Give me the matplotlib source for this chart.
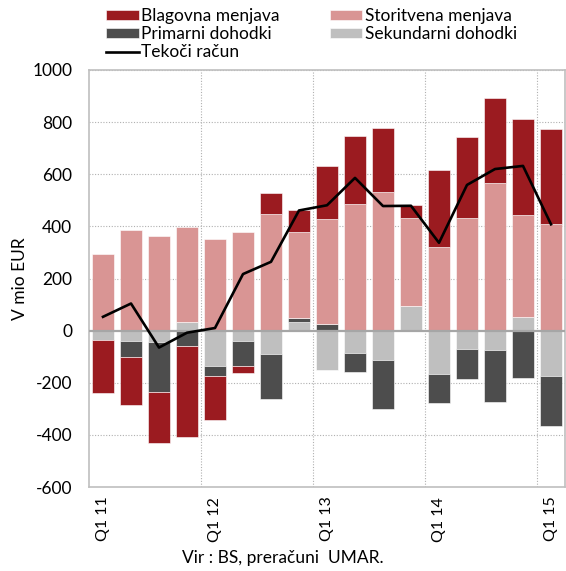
import matplotlib
matplotlib.use("Agg")
import matplotlib.pyplot as plt
import numpy as np

plt.rcParams['font.family'] = ['Lato', 'DejaVu Sans']

quarters = ["Q1 11", "Q2 11", "Q3 11", "Q4 11", "Q1 12", "Q2 12", "Q3 12", "Q4 12",
            "Q1 13", "Q2 13", "Q3 13", "Q4 13", "Q1 14", "Q2 14", "Q3 14", "Q4 14", "Q1 15"]
goods = [-203, -183, -195, -350, -169, -27, 80, 82, 205, 261, 245, 47, 298, 310, 327, 369, 364]
services = [295, 387, 363, 365, 350, 378, 447, 331, 403, 485, 532, 340, 319, 432, 565, 390, 410]
primary = [0, -63, -190, -58, -38, -95, -176, 17, 24, -74, -191, 0, -114, -113, -200, -180, -191]
secondary = [-37, -38, -45, 32, -135, -40, -88, 32, -151, -85, -111, 94, -165, -72, -73, 53, -176]
current = [53, 104, -65, -8, 10, 217, 264, 461, 481, 586, 478, 479, 337, 559, 620, 632, 408]

names = ["Sekundarni dohodki", "Primarni dohodki", "Storitvena menjava", "Blagovna menjava"]
series = [secondary, primary, services, goods]
colors = ["#bfbfbf", "#4d4d4d", "#d99594", "#9b1b20"]

fig = plt.figure(figsize=(5.66, 5.71), dpi=100)
ax = fig.add_axes([89/566, 1-487/571, 476/566, 417/571])

x = np.arange(len(quarters))
pos_bottom = np.zeros(len(x))
neg_bottom = np.zeros(len(x))
handles = {}
for name, vals, c in zip(names, series, colors):
    v = np.array(vals, dtype=float)
    bottom = np.where(v >= 0, pos_bottom, neg_bottom)
    b = ax.bar(x, v, width=0.78, bottom=bottom, color=c, edgecolor="white",
               linewidth=0.4, zorder=2)
    handles[name] = b
    pos_bottom += np.where(v >= 0, v, 0)
    neg_bottom += np.where(v < 0, v, 0)

line, = ax.plot(x, current, color="black", lw=1.9, zorder=4)

ax.set_xlim(-0.5, len(x) - 0.5)
ax.set_ylim(-600, 1000)
ax.set_yticks(np.arange(-600, 1001, 200))
ax.set_yticklabels([str(v) for v in range(-600, 1001, 200)], fontsize=12.5)
ax.set_xticks(x[::4])
ax.set_xticklabels(quarters[::4], rotation=90, fontsize=11.5)
ax.tick_params(axis="x", length=0, pad=7)
ax.tick_params(axis="y", length=0, pad=12)

for yv in range(-400, 1001, 200):
    if yv != 0:
        ax.axhline(yv, color="#b0b0b0", lw=0.8, ls=(0, (1, 1.5)), zorder=1)
for xv in [3.5, 7.5, 11.5, 15.5]:
    ax.axvline(xv, color="#b0b0b0", lw=0.8, ls=(0, (1, 1.5)), zorder=1)
ax.axhline(0, color="#a6a6a6", lw=1.6, zorder=3)

for s in ax.spines.values():
    s.set_color("#bfbfbf")
    s.set_linewidth(1.2)

ax.set_ylabel("V mio EUR", fontsize=12.5, labelpad=3)

leg_handles = [handles["Blagovna menjava"], handles["Primarni dohodki"], line,
               handles["Storitvena menjava"], handles["Sekundarni dohodki"]]
leg_labels = ["Blagovna menjava", "Primarni dohodki", "Tekoči račun",
              "Storitvena menjava", "Sekundarni dohodki"]
fig.legend(leg_handles, leg_labels, ncol=2, loc="upper left",
           bbox_to_anchor=(96/566, 1.004), frameon=False, fontsize=12.5,
           handlelength=1.85, handleheight=0.55, handletextpad=0.15,
           labelspacing=0.12, columnspacing=2.9, borderaxespad=0.2)

fig.text(283/566, 1-558/571, "Vir : BS, preračuni  UMAR.", ha="center", va="center",
         fontsize=12.5)

fig.savefig("out.png", dpi=100)
